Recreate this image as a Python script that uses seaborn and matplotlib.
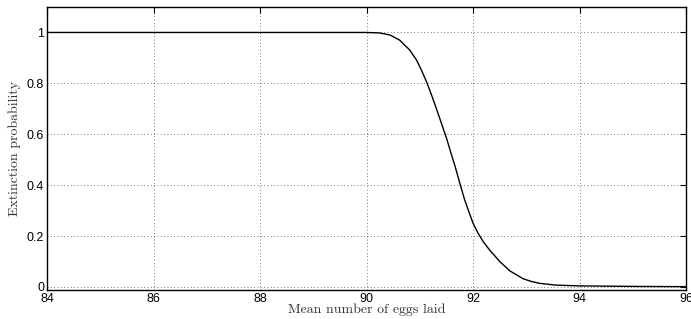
import matplotlib
matplotlib.use("Agg")
import matplotlib.pyplot as plt
import seaborn as sns
import pandas as pd

mean_eggs = [84, 90, 90.25, 90.44, 90.62, 90.81, 90.94, 91.03, 91.13, 91.22,
             91.31, 91.41, 91.5, 91.56, 91.66, 91.75, 91.84, 91.94, 92.0,
             92.09, 92.19, 92.31, 92.5, 92.69, 92.94, 93.1, 93.25, 93.56, 94,
             95, 96]
extinction_prob = [1.0, 1.0, 0.998, 0.99, 0.97, 0.931, 0.891, 0.852, 0.804, 0.754,
                   0.701, 0.64, 0.585, 0.543, 0.475, 0.408, 0.343, 0.284, 0.25,
                   0.212, 0.178, 0.145, 0.1, 0.063, 0.032, 0.021, 0.014, 0.007,
                   0.004, 0.002, 0.001]
x_ticks = [84, 86, 88, 90, 92, 94, 96]
y_ticks = [0, 0.2, 0.4, 0.6, 0.8, 1]
y_tick_labels = ["0", "0.2", "0.4", "0.6", "0.8", "1"]

sns.set_style("white")
plt.rcParams['font.family'] = ['Liberation Sans', 'DejaVu Sans']

df = pd.DataFrame({"x": mean_eggs, "y": extinction_prob})

fig = plt.figure(figsize=(6.91, 3.19), dpi=100)
ax = fig.add_axes([0.068, 0.091, 0.925, 0.887])
sns.lineplot(data=df, x="x", y="y", ax=ax, color="black", linewidth=1.0)

ax.set_xlim(84, 96)
ax.set_ylim(-0.012, 1.1)
ax.set_xticks(x_ticks)
ax.set_xticklabels([str(t) for t in x_ticks])
ax.set_yticks(y_ticks)
ax.set_yticklabels(y_tick_labels)
ax.grid(True, linestyle=(0, (1, 3)), color="black", linewidth=0.6, alpha=0.7)
ax.tick_params(direction="in", length=4, width=0.8, labelsize=9, colors="black",
               top=True, right=True, pad=2)
for s in ax.spines.values():
    s.set_color("black")
    s.set_linewidth(1.0)

ax.set_xlabel("Mean number of eggs laid", family=['cmr10', 'DejaVu Serif'],
              fontsize=10, labelpad=-1, color="#333333")
ax.set_ylabel("Extinction probability", family=['cmr10', 'DejaVu Serif'],
              fontsize=10, labelpad=4, color="#333333")

fig.savefig("out.png", dpi=100)
